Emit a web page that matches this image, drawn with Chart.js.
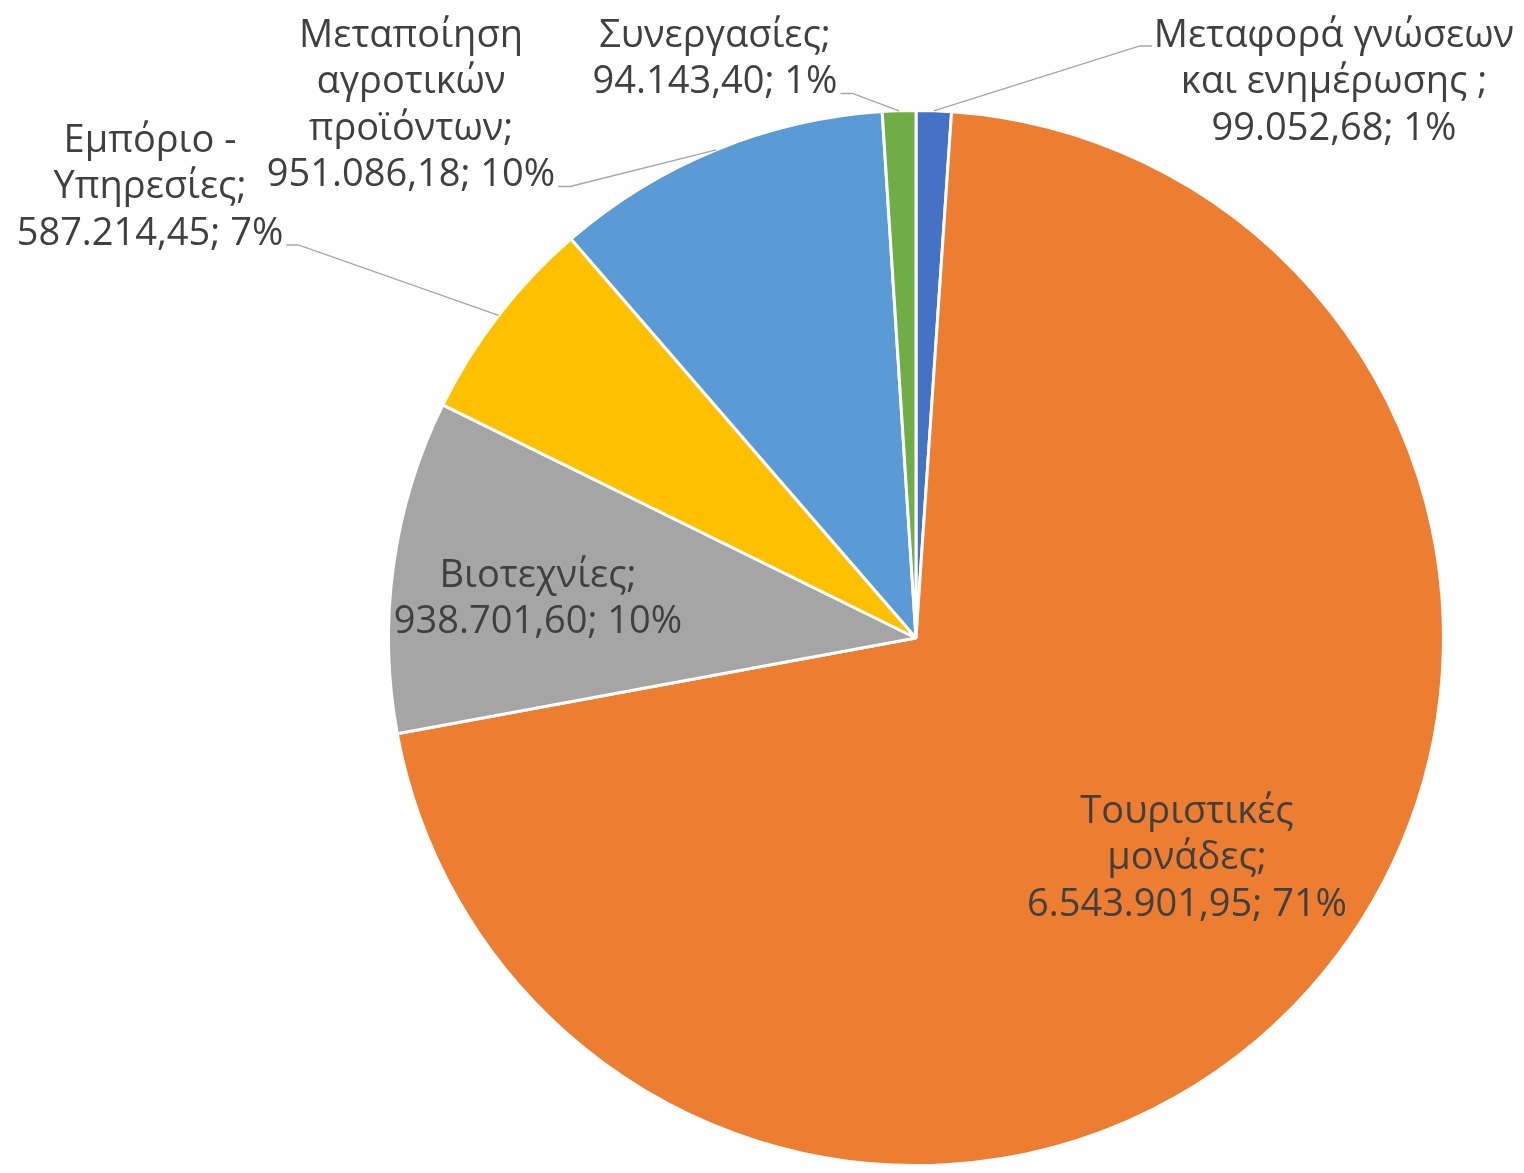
<!DOCTYPE html>
<html>
<head>
<meta charset="utf-8">
<script src="https://cdn.jsdelivr.net/npm/chart.js@4.4.0/dist/chart.umd.min.js"></script>
<style>
  html, body { margin: 0; padding: 0; background: #fff; }
  #pieCanvas { display: block; }
</style>
</head>
<body>
<canvas id="pieCanvas" width="1524" height="1173"></canvas>
<script>
// data
const categories = [
  ["Μεταφορά γνώσεων", "και ενημέρωσης "],
  ["Τουριστικές", "μονάδες"],
  ["Βιοτεχνίες"],
  ["Εμπόριο -", "Υπηρεσίες"],
  ["Μεταποίηση", "αγροτικών", "προϊόντων"],
  ["Συνεργασίες"]
];
const values = [99052.68, 6543901.95, 938701.60, 587214.45, 951086.18, 94143.40];
const percentLabels = ["1%", "71%", "10%", "7%", "10%", "1%"];
const sliceColors = ["#4472C4", "#ED7D31", "#A5A5A5", "#FFC000", "#5B9BD5", "#70AD47"];

// where each label sits (center x, first line center y) and which side the leader leaves from
const labelLayout = [
  { x: 1334, y: 36, leader: "left" },
  { x: 1187, y: 812 },
  { x: 538, y: 576 },
  { x: 150, y: 141, leader: "right" },
  { x: 411, y: 36, leader: "right" },
  { x: 715, y: 36, leader: "right" }
];
const lineH = 46.5;
const labelFont = "38px 'Open Sans'";

function fmtGreek(v) {
  const parts = v.toFixed(2).split(".");
  return parts[0].replace(/\B(?=(\d{3})+(?!\d))/g, ".") + "," + parts[1];
}

function labelLines(i) {
  const cat = categories[i];
  const lines = cat.slice(0, -1);
  lines.push(cat[cat.length - 1] + ";");
  lines.push(fmtGreek(values[i]) + "; " + percentLabels[i]);
  return lines;
}

const pieLabels = {
  id: "pieLabels",
  afterDatasetsDraw(chart) {
    const ctx = chart.ctx;
    const meta = chart.getDatasetMeta(0);
    ctx.save();
    ctx.font = labelFont;
    ctx.fillStyle = "#404040";
    ctx.textAlign = "center";
    ctx.textBaseline = "middle";
    meta.data.forEach((arc, i) => {
      const pos = labelLayout[i];
      const lines = labelLines(i);
      lines.forEach((t, k) => ctx.fillText(t, pos.x, pos.y + k * lineH));

      if (pos.leader) {
        const mid = (arc.startAngle + arc.endAngle) / 2;
        const ax = arc.x + Math.cos(mid) * arc.outerRadius;
        const ay = arc.y + Math.sin(mid) * arc.outerRadius;
        let tx, ty, sx;
        if (pos.leader === "right") {
          const last = lines[lines.length - 1];
          tx = pos.x + ctx.measureText(last).width / 2 + 3;
          ty = pos.y + (lines.length - 1) * lineH + 11;
          sx = tx + 12;
        } else {
          tx = pos.x - ctx.measureText(lines[0]).width / 2 - 2;
          ty = pos.y + 10;
          sx = tx - 12;
        }
        ctx.beginPath();
        ctx.moveTo(tx, ty);
        ctx.lineTo(sx, ty);
        ctx.lineTo(ax, ay);
        ctx.strokeStyle = "#a6a6a6";
        ctx.lineWidth = 1.3;
        ctx.stroke();
      }
    });
    ctx.restore();
  }
};

new Chart(document.getElementById("pieCanvas").getContext("2d"), {
  type: "pie",
  data: {
    labels: categories,
    datasets: [{
      data: values,
      backgroundColor: sliceColors,
      borderColor: "#ffffff",
      borderWidth: 3
    }]
  },
  options: {
    responsive: false,
    animation: false,
    layout: { padding: { left: 386, right: 78, top: 109, bottom: 6 } },
    plugins: {
      legend: { display: false },
      tooltip: { enabled: false }
    }
  },
  plugins: [pieLabels]
});
</script>
</body>
</html>
